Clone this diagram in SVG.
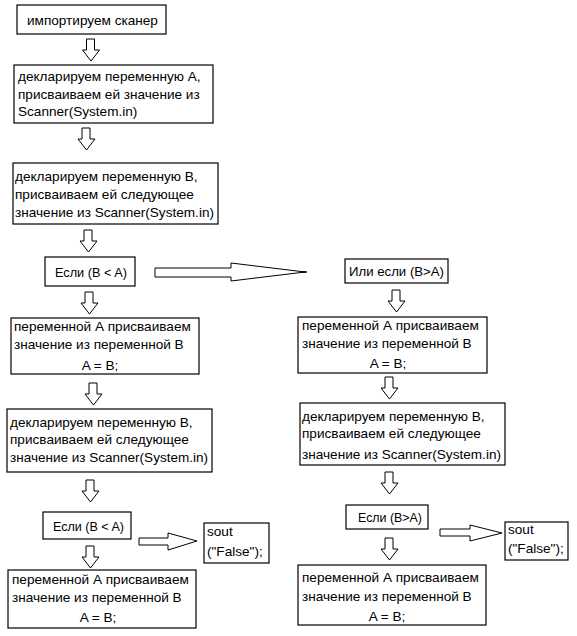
<svg xmlns="http://www.w3.org/2000/svg" xmlns:xlink="http://www.w3.org/1999/xlink" width="577" height="636" viewBox="0 0 577 636">
<style>
.box{fill:#fff;stroke:#000;stroke-width:1.2}
.t{font-family:"Liberation Sans",Arial,sans-serif;font-size:13.6px;fill:#000}
.c{text-anchor:middle}
.arr{fill:#fff;stroke:#000;stroke-width:1}
</style>
<defs>
<polygon id="darrow" class="arr" points="4,0 12,0 12,11 17,11 8.5,22 0,11 4,11"/>
</defs>
<rect width="577" height="636" fill="#fff"/>
<g id="connectors">
<use xlink:href="#darrow" x="82.5" y="39"/>
<use xlink:href="#darrow" x="78" y="128"/>
<use xlink:href="#darrow" x="80" y="230"/>
<use xlink:href="#darrow" x="81" y="292"/>
<use xlink:href="#darrow" x="85" y="383"/>
<use xlink:href="#darrow" x="82" y="480"/>
<use xlink:href="#darrow" x="82" y="546"/>
<use xlink:href="#darrow" x="388" y="290"/>
<use xlink:href="#darrow" x="381" y="377"/>
<use xlink:href="#darrow" x="381" y="472"/>
<use xlink:href="#darrow" x="381" y="538"/>
<polygon class="arr" points="155,268 231,268 231,263 305,272 231,281 231,277 155,277"/>
<line x1="300" y1="272" x2="307" y2="272" stroke="#000" stroke-width="1.5"/>
<polygon class="arr" points="139,538 168,538 168,533 197,541 168,550 168,545 139,545"/>
<polygon class="arr" points="440,529 470,529 470,525 502,533 470,541 470,536 440,536"/>
</g>
<g id="n1"><rect class="box" x="17" y="5" width="149" height="29"/><text class="t" x="27" y="25">импортируем сканер</text></g>
<g id="n2"><rect class="box" x="14" y="65" width="199" height="58"/><text class="t" x="18" y="81">декларируем переменную А,</text><text class="t" x="18" y="98.5">присваиваем ей значение из</text><text class="t" x="18" y="116">Scanner(System.in)</text></g>
<g id="n3"><rect class="box" x="13" y="163" width="205" height="61"/><text class="t" x="15" y="181">декларируем переменную В,</text><text class="t" x="15" y="199">присваиваем ей следующее</text><text class="t" x="15" y="217" textLength="199" lengthAdjust="spacingAndGlyphs">значение из Scanner(System.in)</text></g>
<g id="n4"><rect class="box" x="45" y="257" width="90" height="29"/><text class="t" x="55" y="277" textLength="72" lengthAdjust="spacingAndGlyphs">Если (B &lt; A)</text></g>
<g id="n5"><rect class="box" x="345" y="259" width="103" height="24"/><text class="t" x="349" y="276" textLength="95" lengthAdjust="spacingAndGlyphs">Или если (B&gt;A)</text></g>
<g id="n6"><rect class="box" x="11" y="318" width="188" height="56"/><text class="t" x="14" y="331">переменной А присваиваем</text><text class="t" x="14" y="349">значение из переменной В</text><text class="t c" x="100" y="370">A = B;</text></g>
<g id="n7"><rect class="box" x="298" y="317" width="189" height="56"/><text class="t" x="302" y="330">переменной А присваиваем</text><text class="t" x="302" y="348">значение из переменной В</text><text class="t c" x="388" y="368">A = B;</text></g>
<g id="n8"><rect class="box" x="7" y="409" width="205" height="63"/><text class="t" x="10" y="427">декларируем переменную В,</text><text class="t" x="10" y="444">присваиваем ей следующее</text><text class="t" x="10" y="462" textLength="198" lengthAdjust="spacingAndGlyphs">значение из Scanner(System.in)</text></g>
<g id="n9"><rect class="box" x="300" y="403" width="205" height="62"/><text class="t" x="302" y="421">декларируем переменную В,</text><text class="t" x="302" y="438">присваиваем ей следующее</text><text class="t" x="302" y="459" textLength="199" lengthAdjust="spacingAndGlyphs">значение из Scanner(System.in)</text></g>
<g id="n10"><rect class="box" x="43" y="512" width="88" height="27"/><text class="t" x="53" y="531" textLength="71" lengthAdjust="spacingAndGlyphs">Если (B &lt; A)</text></g>
<g id="n11"><rect class="box" x="204" y="523" width="65" height="40"/><text class="t" x="207" y="536">sout</text><text class="t" x="207" y="556">("False");</text></g>
<g id="n12"><rect class="box" x="346" y="505" width="82" height="24"/><text class="t" x="358" y="522" textLength="64" lengthAdjust="spacingAndGlyphs">Если (B&gt;A)</text></g>
<g id="n13"><rect class="box" x="505" y="522" width="63" height="38"/><text class="t" x="508" y="534">sout</text><text class="t" x="508" y="553">("False");</text></g>
<g id="n14"><rect class="box" x="8" y="570" width="188" height="58"/><text class="t" x="12" y="584">переменной А присваиваем</text><text class="t" x="12" y="602">значение из переменной В</text><text class="t c" x="98" y="622">A = B;</text></g>
<g id="n15"><rect class="box" x="298" y="565" width="188" height="60"/><text class="t" x="302" y="582">переменной А присваиваем</text><text class="t" x="302" y="601">значение из переменной В</text><text class="t c" x="387" y="621">A = B;</text></g>
</svg>
